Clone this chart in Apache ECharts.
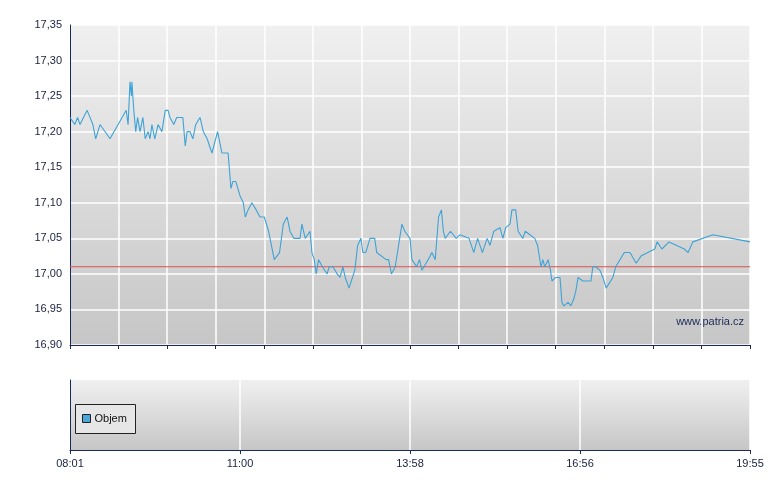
<!DOCTYPE html>
<html>
<head>
<meta charset="UTF-8">
<title>Chart</title>
<script src="https://cdn.jsdelivr.net/npm/echarts@6/dist/echarts.min.js"></script>
<style>body{margin:0;background:#fff}</style>
</head>
<body>
<div id="main" style="width:780px;height:490px;"></div>
<script>
// minuty od 08:01
var minutes = [0,5,8,10.5,18,24,27,31.5,42,59,61,63,64.5,65,67,69,71,73.5,76.5,79,82,84,86,89,92.5,96.5,100,103,105,109,112,118.5,121,123,126,129,132,136.5,140,144,149,155,159.5,166,169,171,174,178.5,182,184,187,191,195.5,199.5,204,208.5,214.5,220,224,228,231,235,241.5,243.5,247,252,254,256.5,258.5,261,265,270,272,276,280.5,283.5,286.5,289,293,299,302,305.5,307.5,310.5,315,320,322,332,334.5,337.5,341.5,348.5,351.5,357,359,364,367,369.5,376,380,383.5,387,390,392,394,399.5,405.5,409.5,419,424,428,433,438,441,445,451.5,454.5,457.5,462,464,468,470.5,472.5,475.5,478,483,488,491,494.5,496.5,498.5,502,504.5,506,510,514.5,516.5,518.5,523,526,529,531,533.5,535.5,538.5,547,549,552,554,556.5,559.5,563,570,573,577.5,582,584,588,594.5,599.5,614,616.5,621.5,629,645,649,654,675,714];
var prices = [17.22,17.21,17.22,17.21,17.23,17.21,17.19,17.21,17.19,17.23,17.21,17.27,17.25,17.27,17.23,17.20,17.22,17.20,17.22,17.19,17.20,17.19,17.21,17.19,17.21,17.20,17.23,17.23,17.22,17.21,17.22,17.22,17.18,17.20,17.20,17.19,17.21,17.22,17.20,17.19,17.17,17.20,17.17,17.17,17.12,17.13,17.13,17.11,17.10,17.08,17.09,17.10,17.09,17.08,17.08,17.06,17.02,17.03,17.07,17.08,17.06,17.05,17.05,17.07,17.05,17.06,17.03,17.02,17.00,17.02,17.01,17.00,17.01,17.01,17.00,16.995,17.01,16.995,16.98,17.005,17.04,17.05,17.03,17.03,17.05,17.05,17.03,17.02,17.02,17.00,17.01,17.07,17.06,17.05,17.02,17.01,17.02,17.005,17.02,17.03,17.02,17.08,17.09,17.06,17.05,17.06,17.05,17.055,17.05,17.03,17.05,17.03,17.05,17.04,17.06,17.065,17.05,17.065,17.07,17.09,17.09,17.06,17.06,17.05,17.06,17.055,17.05,17.04,17.01,17.02,17.01,17.02,17.005,16.99,16.995,16.995,16.96,16.955,16.96,16.955,16.965,16.975,16.995,16.995,16.99,16.99,17.01,17.01,17.01,17.005,16.995,16.98,16.995,17.01,17.02,17.03,17.03,17.03,17.015,17.025,17.035,17.045,17.035,17.045,17.035,17.03,17.045,17.055,17.045];
var prevClose = 17.01;
var timeLabels = ['08:01','11:00','13:58','16:56','19:55'];

var line = minutes.map(function(m, i){ return [m, prices[i]]; });
var chart = echarts.init(document.getElementById('main'));
var bg = {type:'linear',x:0,y:0,x2:0,y2:1,colorStops:[{offset:0,color:'#f0f0f0'},{offset:1,color:'#c6c6c6'}]};
chart.setOption({
  animation: false,
  textStyle: {fontFamily: 'Arial, Liberation Sans, sans-serif'},
  grid: [
    {left:70, right:30, top:25, height:320, show:true, backgroundColor:bg, borderWidth:0},
    {left:70, right:30, top:380, height:70, show:true, backgroundColor:bg, borderWidth:0}
  ],
  xAxis: [
    {type:'value', gridIndex:0, min:0, max:714, interval:51,
     axisLine:{lineStyle:{color:'#1a2a5a'}}, axisTick:{length:4, lineStyle:{color:'#1a2a5a'}},
     axisLabel:{show:false}, splitLine:{lineStyle:{color:'#ffffff', width:1.5}}},
    {type:'value', gridIndex:1, min:0, max:714, interval:178.5,
     axisLine:{lineStyle:{color:'#1a2a5a'}}, axisTick:{length:4, lineStyle:{color:'#1a2a5a'}},
     axisLabel:{color:'#1a2040', fontSize:11, formatter:function(v){ return timeLabels[Math.round(v/178.5)]; }},
     splitLine:{lineStyle:{color:'#ffffff', width:1.5}}}
  ],
  yAxis: [
    {type:'value', gridIndex:0, min:16.9, max:17.35, interval:0.05,
     axisLine:{show:true, lineStyle:{color:'#1a2a5a'}}, axisTick:{show:false},
     axisLabel:{color:'#1a2040', fontSize:11, formatter:function(v){ return v.toFixed(2).replace('.', ','); }},
     splitLine:{lineStyle:{color:'#ffffff', width:1.5}}},
    {type:'value', gridIndex:1, min:0, max:1,
     axisLine:{show:true, lineStyle:{color:'#1a2a5a'}}, axisTick:{show:false},
     axisLabel:{show:false}, splitLine:{show:false}}
  ],
  series: [
    {type:'line', xAxisIndex:0, yAxisIndex:0, data:[[0, prevClose],[714, prevClose]], symbol:'none',
     silent:true, lineStyle:{color:'#d9534f', width:1}, z:1},
    {type:'line', xAxisIndex:0, yAxisIndex:0, data:line, symbol:'none',
     lineStyle:{color:'#3ea3d6', width:1.1}, z:2}
  ],
  graphic: [
    {type:'text', right:36, top:316, style:{text:'www.patria.cz', fill:'#1a2a5a', font:'11px Arial, Liberation Sans, sans-serif'}},
    {type:'group', left:75, top:404, children:[
      {type:'rect', shape:{x:0, y:0, width:60, height:29}, style:{fill:'#e6e6e6', stroke:'#222', lineWidth:1}},
      {type:'rect', shape:{x:7, y:10, width:8, height:8}, style:{fill:'#4aa8d8', stroke:'#222', lineWidth:1}},
      {type:'text', x:19, y:9, style:{text:'Objem', fill:'#111', font:'11px Arial, Liberation Sans, sans-serif'}}
    ]}
  ]
});
</script>
</body>
</html>
